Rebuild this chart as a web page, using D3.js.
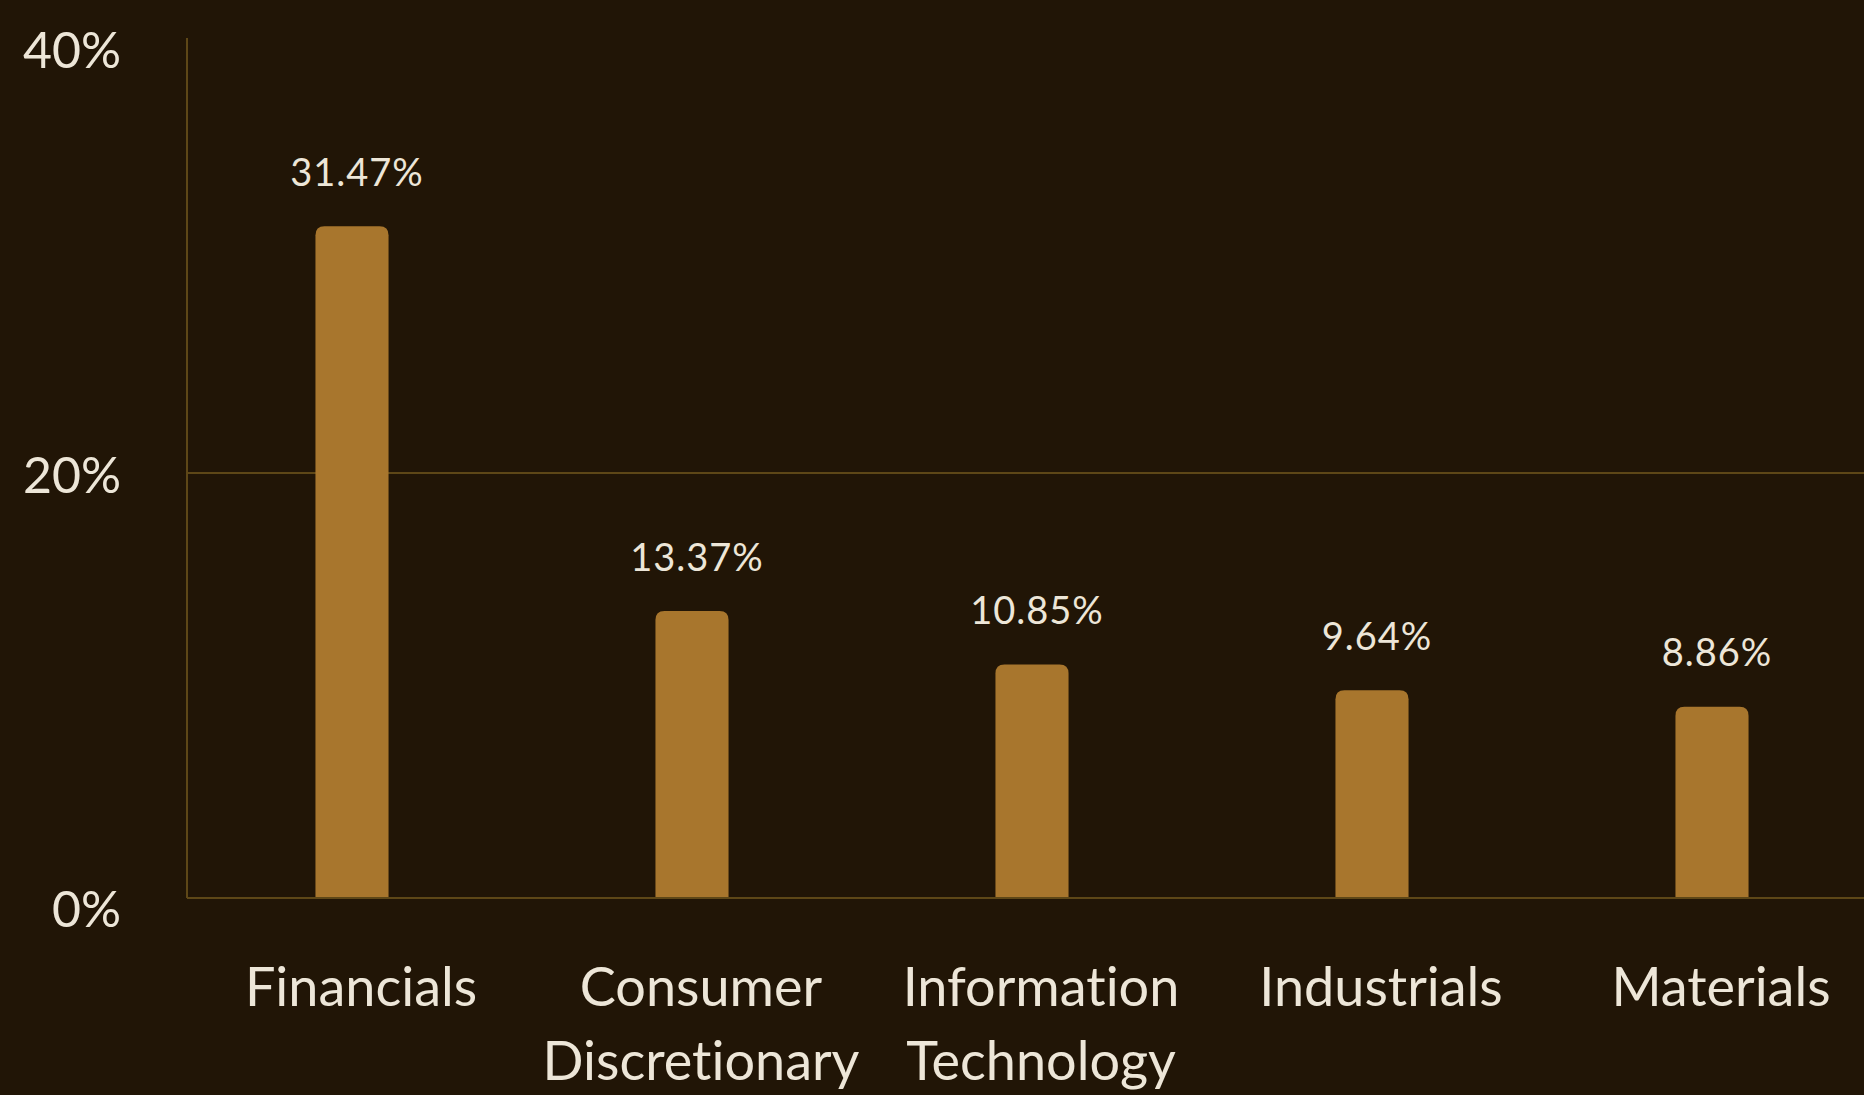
<!DOCTYPE html>
<html><head><meta charset="utf-8">
<script src="https://cdn.jsdelivr.net/npm/d3@7"></script>
<style>
html,body{margin:0;padding:0;background:#211506;}
svg{display:block;}
text{font-family:Lato,"Open Sans",sans-serif;fill:#ede6d8;font-variant-ligatures:none;font-feature-settings:"liga" 0;}
</style></head>
<body>
<svg id="chart" width="1864" height="1095"></svg>
<script>
const categories = ["Financials", "Consumer Discretionary", "Information Technology", "Industrials", "Materials"];
const categoryLines = [["Financials"], ["Consumer", "Discretionary"], ["Information", "Technology"], ["Industrials"], ["Materials"]];
const values = [31.47, 13.37, 10.85, 9.64, 8.86];
const yTicks = [0, 20, 40];
const yTickLabels = ["0%", "20%", "40%"];

const W = 1864, H = 1095;
const svg = d3.select("#chart");
svg.append("rect").attr("width", W).attr("height", H).attr("fill", "#211506");

const x = d3.scaleBand().domain(categories).range([182, 1882]).paddingInner(0.785).paddingOuter(0.3925);
const y = d3.scaleLinear().domain([0, 40]).range([898, 48]);
const axisLeft = 187;
const gridColor = "#5e4717";

// gridline at 20%
svg.append("g").selectAll("line").data(yTicks.filter(t => t > 0 && t < 40)).join("line")
  .attr("x1", axisLeft).attr("x2", W).attr("y1", d => y(d)).attr("y2", d => y(d))
  .attr("stroke", gridColor).attr("stroke-width", 2);

// y axis line
svg.append("line").attr("x1", axisLeft).attr("x2", axisLeft).attr("y1", y(40) - 10).attr("y2", y(0))
  .attr("stroke", gridColor).attr("stroke-width", 2);

// bars with rounded top
const r = 9;
svg.append("g").selectAll("path").data(values).join("path")
  .attr("d", (v, i) => {
    const x0 = x(categories[i]), bw = x.bandwidth(), y0 = y(0), y1 = y(v) - 3;
    return `M${x0},${y0}V${y1 + r}Q${x0},${y1} ${x0 + r},${y1}H${x0 + bw - r}Q${x0 + bw},${y1} ${x0 + bw},${y1 + r}V${y0}Z`;
  })
  .attr("fill", "#a8762d");

// baseline
svg.append("line").attr("x1", axisLeft).attr("x2", W).attr("y1", y(0)).attr("y2", y(0))
  .attr("stroke", gridColor).attr("stroke-width", 2);

// y tick labels
svg.append("g").selectAll("text").data(yTicks).join("text")
  .attr("x", 121).attr("y", d => y(d) + (d === 0 ? 11 : 2)).attr("dy", "0.36em")
  .attr("text-anchor", "end").attr("font-size", 50)
  .text((d, i) => yTickLabels[i]);

// value labels
svg.append("g").selectAll("text").data(values).join("text")
  .attr("x", (v, i) => x(categories[i]) + x.bandwidth() / 2 + 5)
  .attr("y", v => y(v) - 57).attr("dy", "0.36em")
  .attr("text-anchor", "middle").attr("font-size", 38).attr("letter-spacing", 1)
  .text(v => v.toFixed(2) + "%");

// category labels
const cg = svg.append("g").selectAll("text").data(categoryLines).join("text")
  .attr("text-anchor", "middle").attr("font-size", 54);
cg.each(function(lines, i) {
  const t = d3.select(this);
  lines.forEach((ln, j) => {
    t.append("tspan").attr("x", x(categories[i]) + x.bandwidth() / 2 + 9)
      .attr("y", 987 + j * 74).attr("dy", "0.36em").text(ln);
  });
});
</script>
</body></html>
